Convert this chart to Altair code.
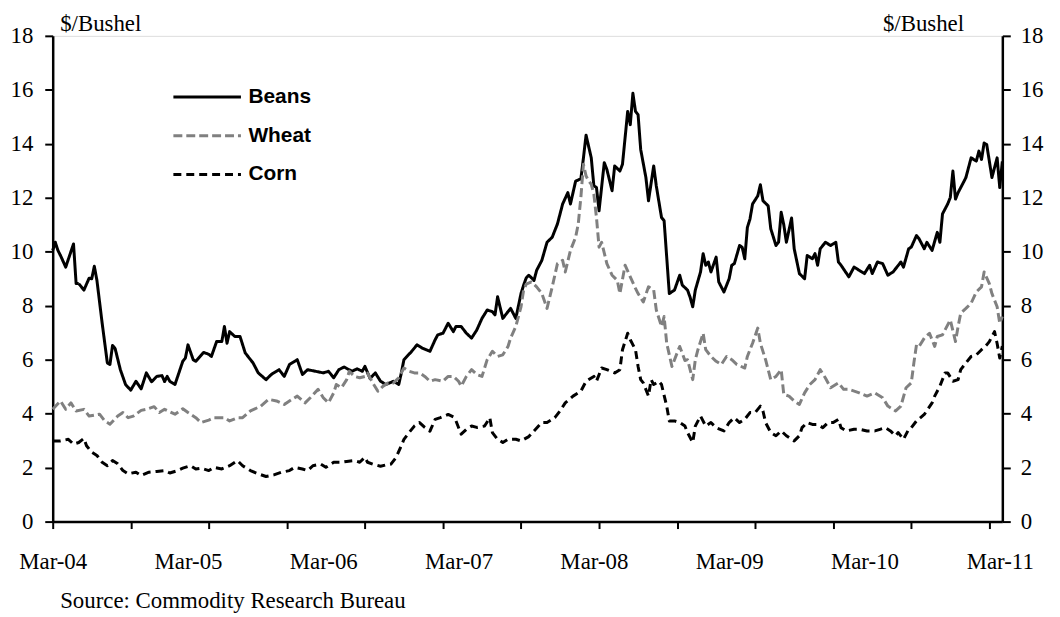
import altair as alt
import pandas as pd

series_names = ["Beans", "Wheat", "Corn"]

beans_weeks = [0, 1, 2, 3, 5, 8, 9, 10, 12, 14,
               15, 16, 17, 19, 21, 22, 23, 24, 26, 28,
               30, 32, 34, 36, 38, 40, 42, 43, 44, 45,
               47, 50, 51, 52, 54, 55, 58, 60, 61, 63,
               65, 66, 67, 68, 70, 72, 74, 77, 79, 82,
               84, 87, 89, 91, 94, 96, 98, 101, 104, 106,
               108, 110, 112, 115, 117, 119, 120, 122, 124, 126,
               128, 131, 133, 134, 135, 138, 140, 142, 145, 147,
               148, 150, 152, 154, 155, 157, 159, 161, 163, 165,
               167, 169, 170, 171, 173, 175, 176, 178, 180, 181,
               182, 183, 185, 186, 188, 190, 192, 194, 196, 198,
               199, 201, 203, 204, 205, 207, 208, 209, 210, 212,
               213, 215, 216, 218, 219, 220, 221, 222, 223, 224,
               225, 226, 228, 229, 231, 232, 234, 235, 237, 239,
               241, 242, 244, 245, 246, 247, 249, 250, 251, 252,
               253, 255, 256, 258, 260, 261, 262, 264, 265, 266,
               267, 268, 269, 271, 272, 273, 275, 276, 278, 279,
               280, 281, 282, 284, 285, 287, 289, 290, 292, 293,
               294, 295, 297, 299, 301, 302, 303, 306, 308, 310,
               312, 314, 315, 317, 319, 321, 323, 326, 327, 329,
               330, 332, 333, 335, 336, 338, 340, 341, 342, 344,
               345, 346, 347, 348, 350, 351, 353, 355, 356, 357,
               358, 359, 361, 363, 364, 365]
beans_prices = [10.05, 10.35, 10.05, 9.86, 9.43, 10.29, 8.82, 8.82, 8.58, 9.02,
                9.0, 9.46, 8.94, 7.36, 5.88, 5.82, 6.53, 6.41, 5.63, 5.08,
                4.87, 5.2, 4.92, 5.51, 5.18, 5.38, 5.41, 5.19, 5.38, 5.2,
                5.08, 5.94, 6.06, 6.55, 6.0, 5.94, 6.27, 6.2, 6.12, 6.67,
                6.67, 7.23, 6.61, 7.04, 6.86, 6.86, 6.25, 5.88, 5.51, 5.26,
                5.45, 5.63, 5.38, 5.82, 6.0, 5.45, 5.63, 5.57, 5.51, 5.57,
                5.33, 5.63, 5.73, 5.57, 5.66, 5.57, 5.75, 5.3, 5.51, 5.2,
                5.08, 5.2, 5.08, 5.51, 6.0, 6.31, 6.55, 6.43, 6.31, 6.74,
                6.92, 6.98, 7.35, 7.04, 7.23, 7.23, 6.98, 6.8, 7.1, 7.53,
                7.84, 7.78, 7.66, 8.33, 7.53, 7.78, 7.9, 7.53, 8.45, 8.76,
                9.03, 9.13, 8.94, 9.31, 9.68, 10.35, 10.54, 11.03, 11.77, 12.19,
                11.77, 12.62, 12.7, 13.48, 14.32, 13.48, 12.44, 12.38, 11.52, 13.3,
                13.05, 12.26, 13.18, 12.99, 13.24, 14.22, 15.2, 14.71, 15.87, 15.2,
                15.08, 13.79, 12.75, 11.89, 13.18, 12.44, 11.27, 11.15, 8.45, 8.58,
                9.13, 8.76, 8.58, 8.31, 7.96, 8.58, 9.25, 9.93, 9.5, 9.62,
                9.25, 9.8, 8.88, 8.51, 9.0, 9.5, 9.56, 10.23, 10.17, 9.74,
                10.9, 11.21, 11.77, 12.07, 12.48, 11.89, 11.7, 10.85, 10.23, 10.36,
                11.46, 11.0, 10.35, 11.25, 10.11, 9.19, 9.0, 9.86, 9.74, 9.93,
                9.5, 10.11, 10.35, 10.23, 10.35, 9.62, 9.5, 9.07, 9.43, 9.31,
                9.19, 9.5, 9.19, 9.62, 9.56, 9.13, 9.25, 9.62, 9.43, 10.11,
                10.17, 10.6, 10.48, 10.11, 10.35, 10.05, 10.72, 10.35, 11.4, 11.77,
                12.01, 12.99, 11.95, 12.19, 12.56, 12.75, 13.48, 13.36, 13.73, 13.42,
                14.03, 13.97, 12.75, 13.48, 12.38, 13.35]

wheat_weeks = [0, 3, 5, 7, 9, 12, 14, 18, 20, 22,
               25, 27, 29, 31, 34, 36, 39, 41, 43, 47,
               50, 52, 55, 57, 60, 62, 66, 68, 71, 73,
               76, 80, 83, 86, 89, 92, 94, 97, 99, 102,
               104, 106, 108, 109, 111, 113, 114, 116, 118, 120,
               121, 123, 125, 127, 129, 131, 133, 135, 137, 139,
               141, 143, 145, 147, 150, 152, 154, 156, 157, 159,
               161, 163, 165, 167, 169, 171, 173, 175, 176, 178,
               180, 181, 182, 184, 186, 188, 190, 192, 194, 196,
               197, 199, 201, 202, 203, 204, 205, 206, 207, 208,
               209, 210, 211, 213, 215, 217, 218, 220, 222, 224,
               225, 227, 229, 231, 232, 234, 235, 236, 238, 240,
               241, 243, 244, 246, 247, 248, 250, 251, 253, 255,
               257, 259, 261, 263, 266, 267, 269, 271, 272, 274,
               276, 278, 280, 281, 283, 285, 287, 289, 291, 293,
               295, 297, 299, 302, 304, 306, 310, 313, 316, 319,
               321, 324, 326, 328, 330, 331, 332, 333, 335, 337,
               339, 340, 342, 344, 345, 347, 348, 349, 351, 353,
               355, 357, 358, 360, 361, 363, 364, 365]
wheat_prices = [4.16, 4.47, 4.16, 4.4, 4.1, 4.16, 3.91, 3.98, 3.73, 3.61,
                3.91, 4.04, 3.85, 3.91, 4.12, 4.16, 4.26, 4.04, 4.16, 3.98,
                4.18, 4.04, 3.85, 3.67, 3.76, 3.85, 3.85, 3.73, 3.85, 3.85,
                4.1, 4.28, 4.53, 4.47, 4.34, 4.53, 4.65, 4.4, 4.59, 4.9,
                4.59, 4.4, 4.77, 5.08, 4.96, 5.26, 5.57, 5.38, 5.33, 5.38,
                5.5, 5.14, 4.83, 5.02, 5.14, 5.14, 5.33, 5.69, 5.57, 5.51,
                5.51, 5.38, 5.2, 5.26, 5.2, 5.38, 5.38, 5.2, 5.02, 5.38,
                5.63, 5.45, 5.38, 6.0, 6.31, 6.12, 6.18, 6.49, 6.8, 7.23,
                7.96, 8.58, 8.8, 8.88, 8.7, 8.45, 7.9, 8.7, 9.56, 9.68,
                9.25, 10.05, 10.54, 11.03, 12.01, 13.24, 12.81, 12.62, 12.5, 12.13,
                11.27, 10.17, 10.35, 9.56, 9.13, 8.94, 8.45, 9.5, 9.07, 8.64,
                8.45, 8.14, 8.7, 8.58, 7.84, 7.23, 7.6, 6.61, 5.75, 6.25,
                6.49, 5.97, 6.0, 5.26, 6.0, 6.37, 6.98, 6.37, 6.12, 5.94,
                5.82, 6.12, 6.0, 5.82, 5.69, 6.12, 6.61, 7.17, 6.61, 6.0,
                5.26, 5.38, 5.63, 4.71, 4.65, 4.47, 4.34, 4.77, 5.08, 5.26,
                5.63, 5.32, 4.96, 5.14, 4.9, 4.9, 4.77, 4.65, 4.77, 4.59,
                4.28, 4.1, 4.28, 4.96, 5.14, 5.88, 6.55, 6.49, 6.8, 6.98,
                6.49, 6.86, 6.92, 7.29, 7.47, 6.67, 7.23, 7.72, 7.9, 8.09,
                8.51, 8.7, 9.25, 8.82, 8.45, 7.96, 7.35, 7.6]

corn_weeks = [0, 3, 6, 8, 10, 12, 13, 15, 17, 19,
              21, 23, 25, 27, 29, 32, 34, 37, 40, 43,
              45, 48, 50, 53, 55, 57, 60, 62, 65, 68,
              71, 73, 76, 79, 82, 85, 88, 91, 93, 96,
              98, 100, 103, 105, 108, 111, 113, 116, 118, 120,
              121, 123, 126, 128, 130, 132, 134, 135, 137, 139,
              141, 143, 145, 147, 149, 152, 154, 155, 157, 159,
              161, 163, 166, 168, 169, 171, 173, 175, 178, 180,
              183, 185, 188, 190, 193, 195, 197, 200, 203, 205,
              208, 209, 211, 213, 216, 218, 219, 221, 222, 224,
              225, 226, 227, 229, 230, 231, 233, 234, 236, 237,
              239, 241, 243, 244, 246, 247, 249, 251, 253, 255,
              258, 260, 262, 264, 266, 268, 270, 272, 273, 274,
              276, 278, 280, 282, 285, 287, 288, 290, 292, 294,
              296, 298, 300, 302, 303, 305, 308, 310, 313, 316,
              318, 320, 322, 324, 325, 327, 329, 330, 332, 335,
              338, 339, 341, 343, 344, 346, 348, 349, 351, 353,
              355, 357, 359, 360, 362, 363, 364, 365]
corn_prices = [2.99, 2.99, 3.05, 2.87, 2.93, 3.08, 2.81, 2.57, 2.45, 2.2,
               2.07, 2.26, 2.14, 1.89, 1.77, 1.83, 1.71, 1.83, 1.86, 1.89,
               1.8, 1.89, 1.98, 2.07, 1.95, 1.98, 1.89, 2.01, 1.95, 2.07,
               2.26, 2.07, 1.89, 1.77, 1.67, 1.73, 1.83, 1.89, 2.01, 1.95,
               1.89, 2.07, 2.13, 2.01, 2.2, 2.2, 2.23, 2.26, 2.2, 2.38,
               2.2, 2.13, 2.05, 2.1, 2.13, 2.38, 2.81, 3.05, 3.3, 3.54,
               3.67, 3.49, 3.35, 3.79, 3.85, 3.97, 3.88, 3.73, 3.24, 3.42,
               3.54, 3.49, 3.54, 3.85, 3.3, 3.05, 2.93, 3.05, 3.05, 2.99,
               3.15, 3.36, 3.67, 3.67, 3.85, 4.1, 4.4, 4.65, 4.83, 5.2,
               5.38, 5.2, 5.69, 5.63, 5.51, 5.63, 6.37, 6.98, 6.74, 6.37,
               5.75, 5.26, 5.14, 4.65, 5.26, 5.08, 5.2, 5.08, 4.28, 3.73,
               3.73, 3.67, 3.54, 3.3, 2.93, 3.54, 3.91, 3.54, 3.67, 3.48,
               3.36, 3.67, 3.85, 3.67, 3.79, 4.04, 4.04, 4.28, 4.1, 3.67,
               3.3, 3.18, 3.36, 3.18, 2.99, 3.18, 3.48, 3.67, 3.6, 3.6,
               3.48, 3.67, 3.67, 3.79, 3.48, 3.36, 3.42, 3.42, 3.36, 3.36,
               3.42, 3.48, 3.36, 3.18, 3.3, 3.05, 3.42, 3.48, 3.73, 3.97,
               4.4, 4.65, 5.02, 5.51, 5.51, 5.2, 5.26, 5.63, 5.88, 6.12,
               6.18, 6.37, 6.55, 6.67, 7.04, 6.6, 6.06, 6.5]

label_weeks = [0, 52, 104, 156, 208, 260, 312, 364]
x_labels = ["Mar-04", "Mar-05", "Mar-06", "Mar-07", "Mar-08", "Mar-09", "Mar-10", "Mar-11"]
tick_weeks = list(range(0, 361, 30))
y_ticks = list(range(0, 19, 2))

rows = []
for name, wks, vals in [("Beans", beans_weeks, beans_prices),
                        ("Wheat", wheat_weeks, wheat_prices),
                        ("Corn", corn_weeks, corn_prices)]:
    assert len(wks) == len(vals), name
    rows += [{"series": name, "week": w, "price": v} for w, v in zip(wks, vals)]
df = pd.DataFrame(rows)

SERIF = "Liberation Serif"
SANS = "Liberation Sans"
FS = 23

wk_arr = "[" + ",".join(str(w) for w in label_weeks) + "]"
lb_arr = "[" + ",".join("'%s'" % s for s in x_labels) + "]"
label_expr = f"indexof({wk_arr}, datum.value) >= 0 ? {lb_arr}[indexof({wk_arr}, datum.value)] : ''"
axis_values = sorted(set(tick_weeks + label_weeks))

x_enc = alt.X(
    "week:Q",
    scale=alt.Scale(domain=[0, 365], nice=False, zero=False),
    axis=alt.Axis(
        values=axis_values, labelExpr=label_expr,
        tickOpacity={"condition": {"test": "datum.value % 30 === 0", "value": 1}, "value": 0},
        tickSize=7, tickWidth=2, tickColor="black",
        domainColor="black", domainWidth=2.5, grid=False,
        labelFont=SERIF, labelFontSize=FS, labelColor="black", labelPadding=22,
        labelOverlap=False, labelFlush=False, labelBound=False,
        title="Source: Commodity Research Bureau", titleFont=SERIF, titleFontSize=FS,
        titleFontWeight="normal", titleColor="black", titleAlign="left",
        titleAnchor="start", titleX=7, titleY=86, titleBaseline="alphabetic",
    ),
)

def y_axis(orient, pad, title_x, title_align):
    return alt.Axis(
        orient=orient, values=y_ticks, tickSize=8, tickWidth=2, tickColor="black",
        domainColor="black", domainWidth=2.5, grid=False,
        labelFont=SERIF, labelFontSize=FS, labelColor="black", labelPadding=pad,
        title="$/Bushel", titleFont=SERIF, titleFontSize=FS, titleFontWeight="normal",
        titleColor="black", titleAngle=0, titleX=title_x, titleY=-5,
        titleAlign=title_align, titleBaseline="alphabetic",
    )

yscale = alt.Scale(domain=[0, 18], nice=False, zero=True)

legend = alt.Legend(
    title=None, orient="none", legendX=144, legendY=50, padding=0,
    symbolType="M-3.4,0H3.4", symbolSize=400, symbolStrokeWidth=3,
    labelFont=SANS, labelFontWeight="bold", labelFontSize=21, labelColor="black",
    labelOffset=30, rowPadding=17,
)

lines = alt.Chart(df).mark_line(strokeWidth=3, strokeJoin="round").encode(
    x=x_enc,
    y=alt.Y("price:Q", scale=yscale, axis=y_axis("left", 12, 7, "left")),
    color=alt.Color("series:N", sort=series_names,
                    scale=alt.Scale(domain=series_names, range=["#000000", "#808080", "#000000"]),
                    legend=legend),
    strokeDash=alt.StrokeDash("series:N", sort=series_names,
                              scale=alt.Scale(domain=series_names, range=[[1, 0], [9, 4], [8, 5]]),
                              legend=legend),
    order="week:Q",
)

right = alt.Chart(df).mark_line(opacity=0).encode(
    x=x_enc,
    y=alt.Y("price:Q", scale=yscale, axis=y_axis("right", 10, -39, "right")),
    detail="series:N",
)

chart = alt.layer(lines, right).resolve_scale(y="independent").properties(
    width=956, height=489,
    padding={"left": 45, "top": 26, "right": 50, "bottom": 93},
    autosize=alt.AutoSizeParams(type="none"),
).configure_view(stroke="black", strokeWidth=2.5).configure(background="white")

chart.save("out.html", embed_options={"renderer": "svg", "actions": False})
